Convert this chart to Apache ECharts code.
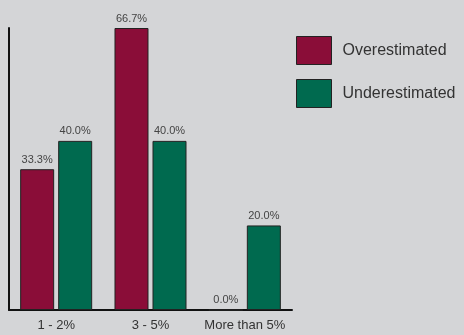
<!DOCTYPE html>
<html><head><meta charset="utf-8">
<script src="https://cdn.jsdelivr.net/npm/echarts@6/dist/echarts.min.js"></script>
<style>html,body{margin:0;padding:0;background:#d4d5d7}#c{width:464px;height:335px}</style>
</head><body><div id="c"></div>
<script>
const categories = ['1 - 2%', '3 - 5%', 'More than 5%'];
const seriesNames = ['Overestimated', 'Underestimated'];
const overestimated = [33.3, 66.7, 0.0];
const underestimated = [40.0, 40.0, 20.0];
const colors = ['#8a0d38', '#006a4f'];
const font = '"Liberation Sans Narrow", "Liberation Sans", sans-serif';

const chart = echarts.init(document.getElementById('c'));
const label = {show: true, position: 'top', distance: 4, color: '#444', fontSize: 11, fontFamily: font,
  formatter: p => p.value.toFixed(1) + '%'};
chart.setOption({
  backgroundColor: '#d4d5d7',
  animation: false,
  grid: {left: 9, right: 172, top: 28, bottom: 25},
  legend: {
    orient: 'vertical', left: 291, top: 31, itemWidth: 35, itemHeight: 28, itemGap: 14,
    icon: 'rect', itemStyle: {borderColor: '#222', borderWidth: 1},
    textStyle: {fontSize: 16, color: '#333', fontFamily: font, padding: [0, 0, 0, 6]},
    data: seriesNames
  },
  xAxis: {
    type: 'category', data: categories,
    axisLine: {lineStyle: {color: '#111', width: 2}},
    axisTick: {show: false},
    axisLabel: {color: '#333', fontSize: 13, fontFamily: font, margin: 9, interval: 0}
  },
  yAxis: {
    type: 'value', min: 0, max: 66.7,
    axisLine: {show: true, lineStyle: {color: '#111', width: 2}},
    axisTick: {show: false}, axisLabel: {show: false}, splitLine: {show: false}
  },
  series: [
    {name: seriesNames[0], type: 'bar', data: overestimated, barWidth: 34, barGap: '11.8%',
     itemStyle: {color: colors[0], borderColor: '#222', borderWidth: 1}, label: label},
    {name: seriesNames[1], type: 'bar', data: underestimated, barWidth: 34,
     itemStyle: {color: colors[1], borderColor: '#222', borderWidth: 1}, label: label}
  ]
});
</script></body></html>
